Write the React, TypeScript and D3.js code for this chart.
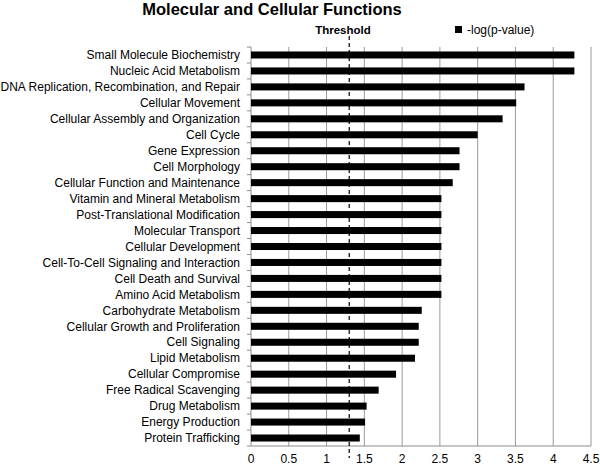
import React from "react";
import * as d3 from "d3";

const WIDTH = 600;
const HEIGHT = 466;
const MARGIN = { top: 47, right: 9, bottom: 20, left: 251 };

const categories = [
  "Small Molecule Biochemistry",
  "Nucleic Acid Metabolism",
  "DNA Replication, Recombination, and Repair",
  "Cellular Movement",
  "Cellular Assembly and Organization",
  "Cell Cycle",
  "Gene Expression",
  "Cell Morphology",
  "Cellular Function and Maintenance",
  "Vitamin and Mineral Metabolism",
  "Post-Translational Modification",
  "Molecular Transport",
  "Cellular Development",
  "Cell-To-Cell Signaling and Interaction",
  "Cell Death and Survival",
  "Amino Acid Metabolism",
  "Carbohydrate Metabolism",
  "Cellular Growth and Proliferation",
  "Cell Signaling",
  "Lipid Metabolism",
  "Cellular Compromise",
  "Free Radical Scavenging",
  "Drug Metabolism",
  "Energy Production",
  "Protein Trafficking",
];

const values = [
  4.28, 4.28, 3.62, 3.51, 3.33, 3.0, 2.76, 2.76, 2.67, 2.52, 2.52, 2.52, 2.52,
  2.52, 2.52, 2.52, 2.26, 2.22, 2.22, 2.17, 1.92, 1.69, 1.53, 1.51, 1.44,
];

const xTicks = [0, 0.5, 1, 1.5, 2, 2.5, 3, 3.5, 4, 4.5];
const threshold = 1.3;

const FONT = "Arial, 'Liberation Sans', sans-serif";

export default function App() {
  const plotBottom = HEIGHT - MARGIN.bottom;
  const x = d3
    .scaleLinear()
    .domain([0, 4.5])
    .range([MARGIN.left, WIDTH - MARGIN.right]);
  const y = d3
    .scaleBand()
    .domain(categories)
    .range([MARGIN.top, plotBottom])
    .paddingInner(0.56)
    .paddingOuter(0.28);
  const step = y.step();
  const tx = x(threshold);

  return (
    <div style={{ position: "absolute", left: 0, top: 0 }}>
      <svg width={WIDTH} height={HEIGHT} style={{ display: "block", background: "#fff" }}>
        <text
          x={272}
          y={15}
          textAnchor="middle"
          fontFamily={FONT}
          fontWeight="bold"
          fontSize={16.5}
        >
          Molecular and Cellular Functions
        </text>

        {/* grid */}
        {xTicks.map((t) => (
          <line
            key={t}
            x1={x(t)}
            x2={x(t)}
            y1={MARGIN.top}
            y2={plotBottom}
            stroke={t === 0 ? "#8c8c8c" : "#9a9a9a"}
            strokeWidth={1}
          />
        ))}
        <line
          x1={x(0)}
          x2={x(4.5)}
          y1={plotBottom}
          y2={plotBottom}
          stroke="#8c8c8c"
        />
        {/* left ticks at category boundaries */}
        {categories.map((c, i) => (
          <line
            key={c}
            x1={x(0) - 4}
            x2={x(0)}
            y1={MARGIN.top + i * step}
            y2={MARGIN.top + i * step}
            stroke="#8c8c8c"
          />
        ))}
        <line
          x1={x(0) - 4}
          x2={x(0)}
          y1={plotBottom}
          y2={plotBottom}
          stroke="#8c8c8c"
        />

        {/* bars */}
        {categories.map((c, i) => (
          <rect
            key={c}
            x={x(0)}
            y={y(c)}
            width={x(values[i]) - x(0)}
            height={y.bandwidth()}
            fill="#000"
          />
        ))}

        {/* category labels */}
        {categories.map((c) => (
          <text
            key={c}
            x={240}
            y={(y(c) ?? 0) + y.bandwidth() / 2}
            dy="0.35em"
            textAnchor="end"
            fontFamily={FONT}
            fontSize={12}
            fill="#000"
          >
            {c}
          </text>
        ))}

        {/* x tick labels */}
        {xTicks.map((t) => (
          <text
            key={t}
            x={x(t)}
            y={HEIGHT - 3}
            textAnchor="middle"
            fontFamily={FONT}
            fontSize={12}
          >
            {t}
          </text>
        ))}

        {/* threshold */}
        <line
          x1={tx}
          x2={tx}
          y1={36}
          y2={HEIGHT - 8}
          stroke="#000"
          strokeWidth={1.2}
          strokeDasharray="4,3"
        />
        <text
          x={343}
          y={34}
          textAnchor="middle"
          fontFamily={FONT}
          fontWeight="bold"
          fontSize={11.5}
        >
          Threshold
        </text>

        {/* legend */}
        <rect x={455} y={26} width={7} height={7} fill="#000" />
        <text x={467} y={34} fontFamily={FONT} fontSize={12}>
          -log(p-value)
        </text>
      </svg>
    </div>
  );
}
